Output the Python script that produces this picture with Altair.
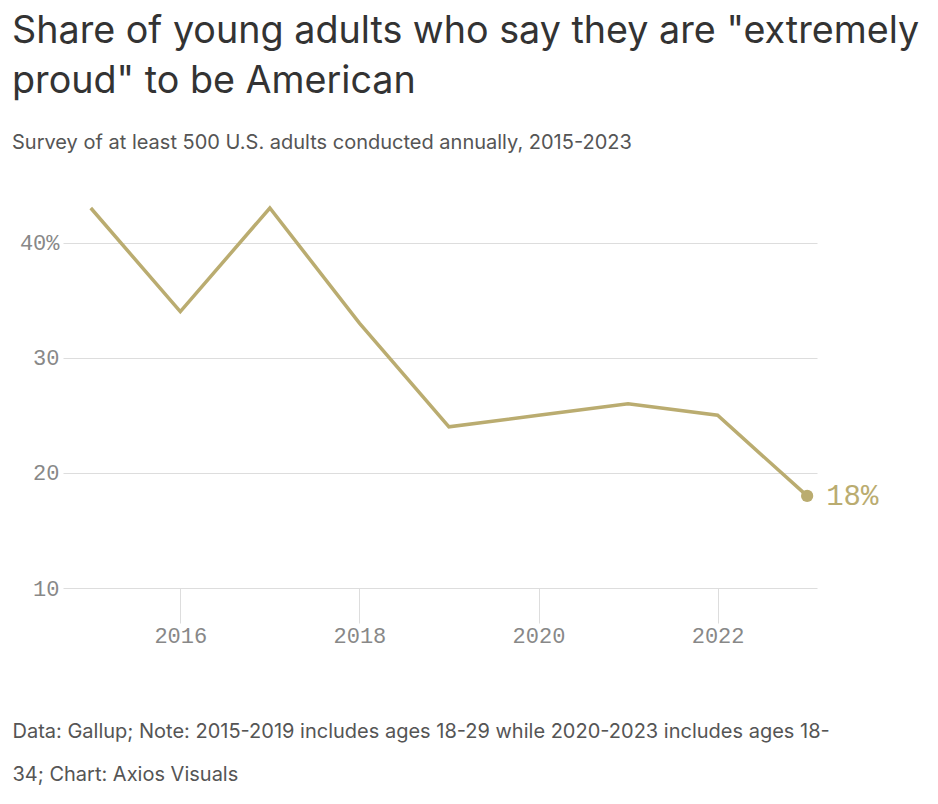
import altair as alt
import pandas as pd

years = [2015, 2016, 2017, 2018, 2019, 2020, 2021, 2022, 2023]
shares = [43, 34, 43, 33, 24, 25, 26, 25, 18]
x_ticks = [2016, 2018, 2020, 2022]
y_ticks = [10, 20, 30, 40]
last_label = ["18%"]

title_lines = ['Share of young adults who say they are "extremely', 'proud" to be American']
subtitle = "Survey of at least 500 U.S. adults conducted annually, 2015-2023"
footer_lines = [
    "Data: Gallup; Note: 2015-2019 includes ages 18-29 while 2020-2023 includes ages 18-",
    "34; Chart: Axios Visuals",
]

COLOR = "#baac70"
MONO = "Liberation Mono"
SANS = "Inter"

df = pd.DataFrame({"year": years, "share": shares})
last = pd.DataFrame({"year": [years[-1]], "share": [shares[-1]], "label": last_label})

x = alt.X(
    "year:Q",
    scale=alt.Scale(domain=[2014.69, 2023.11], nice=False, zero=False),
    axis=alt.Axis(
        values=x_ticks,
        format="d",
        grid=False,
        domain=False,
        tickSize=35,
        tickColor="#dddddd",
        tickWidth=1,
        labelPadding=2,
        labelFont=MONO,
        labelFontSize=22,
        labelColor="#888888",
        title=footer_lines,
        titleFont=SANS,
        titleFontSize=20,
        titleFontWeight="normal",
        titleColor="#555555",
        titleAnchor="start",
        titleAlign="left",
        titleBaseline="alphabetic",
        titleX=-51,
        titleY=149,
        titleLineHeight=43,
    ),
)
y = alt.Y(
    "share:Q",
    scale=alt.Scale(domain=[10, 43], nice=False, zero=False),
    axis=alt.Axis(
        values=y_ticks,
        labelExpr="datum.value == 40 ? datum.value + '%' : datum.value",
        domain=False,
        ticks=False,
        gridColor="#dddddd",
        gridWidth=1,
        labelPadding=4,
        labelFont=MONO,
        labelFontSize=22,
        labelColor="#888888",
        title=None,
    ),
)

line = alt.Chart(df).mark_line(color=COLOR, strokeWidth=3.5).encode(x=x, y=y)
dot = alt.Chart(last).mark_circle(color=COLOR, size=150, opacity=1).encode(x="year:Q", y="share:Q")
lbl = alt.Chart(last).mark_text(
    color=COLOR, font=MONO, fontSize=29, align="left", baseline="middle", dx=19
).encode(x="year:Q", y="share:Q", text="label:N")

chart = (
    alt.layer(line, dot, lbl)
    .properties(
        width=754,
        height=380,
        background="white",
        padding={"left": 4, "top": 5, "right": 10, "bottom": 5},
        title=alt.TitleParams(
            text=title_lines,
            subtitle=subtitle,
            anchor="start",
            frame="group",
            dx=-51,
            font=SANS,
            fontSize=37.7,
            fontWeight="normal",
            color="#333333",
            lineHeight=50,
            subtitleFont=SANS,
            subtitleFontSize=20,
            subtitleColor="#555555",
            subtitlePadding=32,
            offset=48,
        ),
    )
    .configure_view(strokeWidth=0)
)

chart.save("out.html", embed_options={"renderer": "svg", "actions": False})
